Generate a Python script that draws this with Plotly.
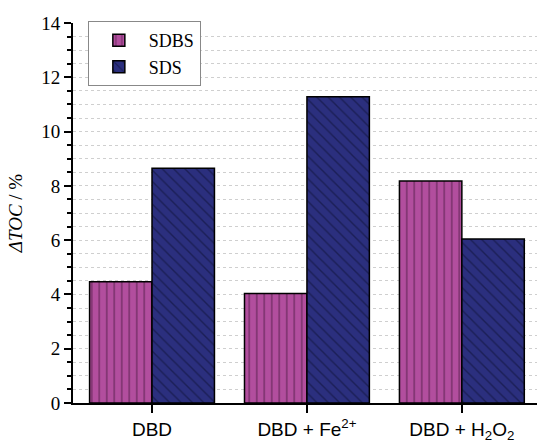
import plotly.graph_objects as go

categories = ["DBD", "DBD + Fe<sup>2+</sup>", "DBD + H<sub>2</sub>O<sub>2</sub>"]
sdbs = [4.47, 4.03, 8.18]
sds = [8.65, 11.28, 6.04]
y_ticks = [0, 2, 4, 6, 8, 10, 12, 14]
grid_ticks = [2, 4, 6, 8, 10, 12]

fig = go.Figure()
fig.add_trace(go.Bar(
    name="SDBS", x=categories, y=sdbs,
    marker=dict(color="#B24E9E", line=dict(color="black", width=1.5),
                pattern=dict(shape="|", size=7.5, solidity=0.2,
                             fgcolor="#3E1236", bgcolor="#B24E9E", fillmode="overlay")),
))
fig.add_trace(go.Bar(
    name="SDS", x=categories, y=sds,
    marker=dict(color="#2B2F7E", line=dict(color="black", width=1.5),
                pattern=dict(shape="\\", size=8, solidity=0.18,
                             fgcolor="#0C0F30", bgcolor="#2B2F7E", fillmode="overlay")),
))

fig.update_layout(
    width=537, height=444,
    margin=dict(l=73, r=0, t=23, b=41),
    paper_bgcolor="white", plot_bgcolor="white",
    barmode="group", bargap=0.194, bargroupgap=0,
    showlegend=True,
    legend=dict(x=0.032, y=1.005, xanchor="left", yanchor="top",
                bgcolor="white", bordercolor="#888888", borderwidth=1,
                font=dict(family="Liberation Serif", size=18, color="black"),
                tracegroupgap=0, itemwidth=50),
    font=dict(family="Liberation Serif", color="black"),
    yaxis2=dict(overlaying="y", side="left", range=[0, 14], tickvals=grid_ticks,
                showticklabels=False, ticks="", showline=False, zeroline=False,
                showgrid=True, gridcolor="#8C8C8C", griddash="dash", gridwidth=1),
)
fig.update_xaxes(
    range=[-0.51, 2.485],
    showline=True, linecolor="black", linewidth=2,
    ticks="outside", ticklen=8, tickwidth=1.5, tickcolor="black",
    tickfont=dict(family="Liberation Sans", size=19, color="black"),
    showgrid=False, zeroline=False,
)
fig.update_layout(yaxis=dict(
    range=[0, 14], tickvals=y_ticks,
    showline=True, linecolor="black", linewidth=2,
    ticks="outside", ticklen=7, tickwidth=1.5, tickcolor="black",
    tickfont=dict(family="Liberation Serif", size=19, color="black"),
    showgrid=False,
    zeroline=False,
    minor=dict(dtick=0.5, ticks="outside", ticklen=4, tickwidth=1.5, tickcolor="black",
               showgrid=True, gridcolor="#CFCFCF", griddash="dot", gridwidth=1),
    title=dict(text="<i>ΔTOC</i> / %", font=dict(family="Liberation Serif", size=19, color="black"),
               standoff=14),
))

fig.write_html("out.html")
